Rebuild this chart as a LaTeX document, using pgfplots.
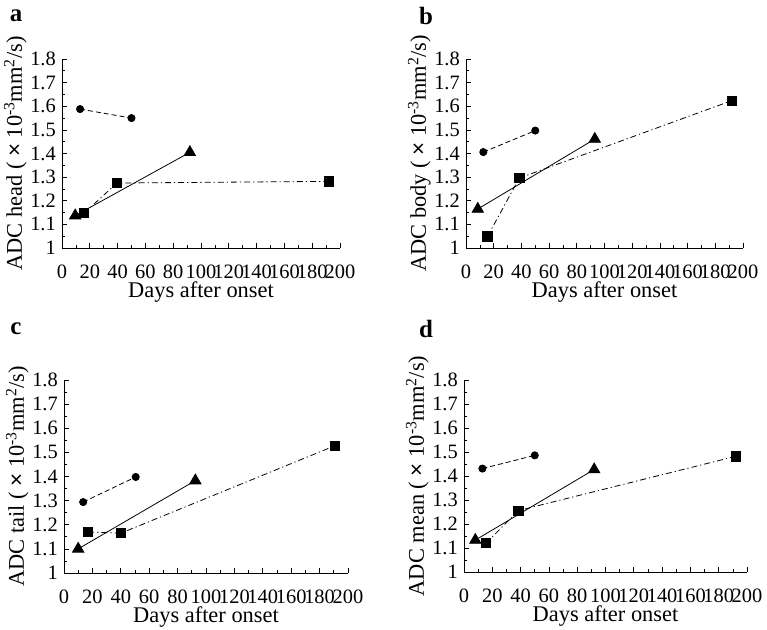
\documentclass[border=0pt]{standalone}
\usepackage{pgfplots}
\pgfplotsset{compat=1.18}
\usepackage{fontspec}
\setmainfont{Liberation Serif}
\newfontfamily\symfont{Liberation Sans}

\pgfplotsset{
  panel/.style={
    scale only axis,
    axis lines=left,
    axis line style={-, line width=0.9pt},
    xmin=0, xmax=200, ymin=1, ymax=1.8,
    xtick={0,20,...,200},
    ytick={1,1.1,...,1.81},
    minor x tick num=1,
    minor y tick num=1,
    tick align=inside,
    major tick length=5bp,
    minor tick length=3bp,
    tick style={black, line width=0.7pt},
    clip=false,
    xticklabel shift=16bp,
    yticklabel shift=5bp,
    /pgf/number format/assume math mode=true,
    /pgf/number format/.cd, fixed, precision=1,
    /pgfplots/.cd,
    ticklabel style={font=\fontsize{20.5}{21}\selectfont, inner sep=1bp},
    label style={font=\fontsize{22.5}{24}\selectfont},
    xlabel={Days after onset},
    xlabel style={yshift=2bp},
    ylabel style={yshift=-1bp},
  },
  circ/.style={black, dash pattern=on 5bp off 3bp, line width=0.8pt, mark=*, mark size=3.6bp, mark options={solid, fill=black}},
  tri/.style={black, solid, line width=0.8pt, mark=triangle*, mark size=6.5bp, mark options={solid, fill=black}},
  sq/.style={black, line width=0.8pt, dash pattern=on 6bp off 3bp on 1.2bp off 3bp, mark=square*, mark size=4.6bp, mark options={solid, fill=black}},
}
\newcommand{\ylab}[1]{ADC #1 ( {\symfont ×} 10\textsuperscript{-3}mm\textsuperscript{2}/s)}

\begin{document}
\begin{tikzpicture}
\useasboundingbox (0bp,0bp) rectangle (767bp,630bp);

\node[font=\bfseries\fontsize{25}{26}\selectfont] at (16bp,614bp) {a};
\node[font=\bfseries\fontsize{25}{26}\selectfont] at (426bp,614bp) {b};
\node[font=\bfseries\fontsize{25}{26}\selectfont] at (16bp,301bp) {c};
\node[font=\bfseries\fontsize{25}{26}\selectfont] at (426bp,301bp) {d};

% panel a
\begin{axis}[panel, at={(62bp,382bp)}, anchor=origin, width=278bp, height=189bp, ylabel={\ylab{head}}]
\addplot[circ] coordinates {(13,1.588) (50,1.550)};
\addplot[tri] coordinates {(9.5,1.137) (92,1.405)};
\addplot[sq] coordinates {(16,1.148) (39.5,1.275) (192,1.282)};
\end{axis}

% panel b
\begin{axis}[panel, at={(466bp,382bp)}, anchor=origin, width=277bp, height=189bp, ylabel={\ylab{body}}]
\addplot[circ] coordinates {(12.5,1.406) (50,1.497)};
\addplot[tri] coordinates {(8.5,1.165) (93,1.461)};
\addplot[sq] coordinates {(15.5,1.049) (38.5,1.296) (192,1.624)};
\end{axis}

% panel c
\begin{axis}[panel, at={(64bp,57bp)}, anchor=origin, width=284bp, height=193bp, ylabel={\ylab{tail}}]
\addplot[circ] coordinates {(13.5,1.294) (50.5,1.398)};
\addplot[tri] coordinates {(10,1.100) (92.5,1.383)};
\addplot[sq] coordinates {(17,1.170) (40,1.165) (191,1.528)};
\end{axis}

% panel d
\begin{axis}[panel, at={(464bp,58bp)}, anchor=origin, width=283bp, height=192bp, ylabel={\ylab{mean}}]
\addplot[circ] coordinates {(13,1.431) (50,1.486)};
\addplot[tri] coordinates {(8,1.133) (92,1.427)};
\addplot[sq] coordinates {(15.5,1.120) (38.5,1.256) (192,1.482)};
\end{axis}
\end{tikzpicture}
\end{document}
